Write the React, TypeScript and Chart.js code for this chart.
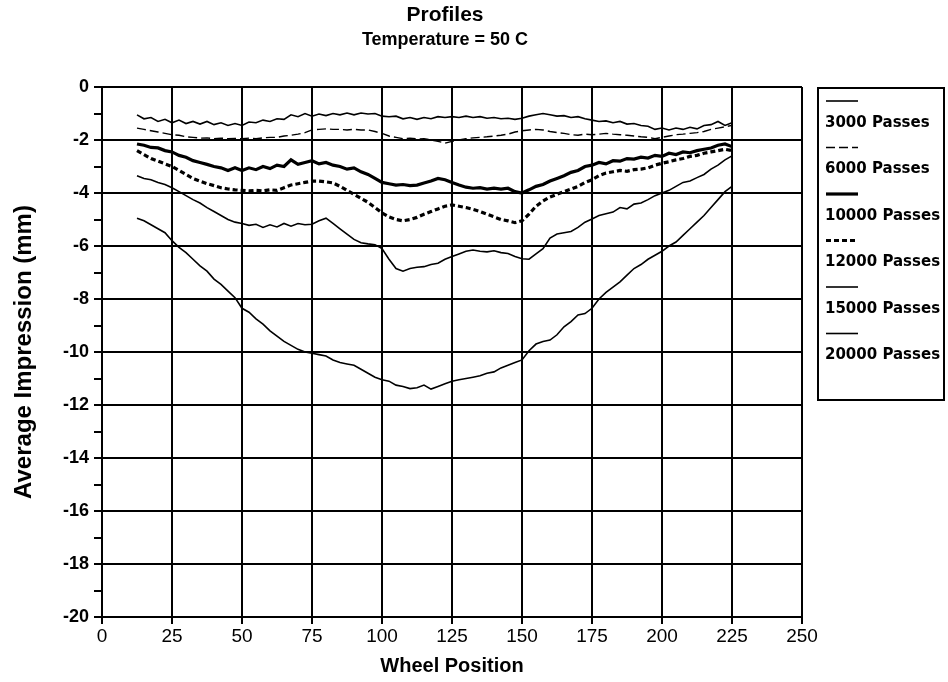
import React, { useEffect, useRef } from "react";
import { Chart, registerables } from "chart.js";

Chart.register(...registerables);

const TITLE_LINES = ["Profiles", "Temperature = 50 C"];
const X_TITLE = "Wheel Position";
const Y_TITLE = "Average Impression (mm)";

const positions = [
  12.5, 15, 17.5, 20, 22.5, 25, 27.5, 30, 32.5, 35, 37.5, 40, 42.5, 45, 47.5, 50,
  52.5, 55, 57.5, 60, 62.5, 65, 67.5, 70, 72.5, 75, 77.5, 80, 82.5, 85, 87.5, 90,
  92.5, 95, 97.5, 100, 102.5, 105, 107.5, 110, 112.5, 115, 117.5, 120, 122.5, 125,
  127.5, 130, 132.5, 135, 137.5, 140, 142.5, 145, 147.5, 150, 152.5, 155, 157.5, 160,
  162.5, 165, 167.5, 170, 172.5, 175, 177.5, 180, 182.5, 185, 187.5, 190, 192.5, 195,
  197.5, 200, 202.5, 205, 207.5, 210, 212.5, 215, 217.5, 220, 222.5, 225,
];

const passes3000 = [
  -1.05, -1.2, -1.15, -1.3, -1.22, -1.35, -1.25, -1.38, -1.3, -1.4, -1.3, -1.42, -1.35, -1.45, -1.38, -1.45,
  -1.32, -1.35, -1.25, -1.3, -1.2, -1.22, -1.05, -1.12, -1.0, -1.1, -1.02, -1.08, -1.0, -1.05, -0.98, -1.05,
  -0.98, -1.02, -1.0, -1.1, -1.12, -1.1, -1.2, -1.15, -1.22, -1.15, -1.2, -1.12, -1.15, -1.12,
  -1.15, -1.1, -1.15, -1.12, -1.18, -1.15, -1.2, -1.18, -1.22, -1.18, -1.1, -1.05, -1.0, -1.05,
  -1.1, -1.08, -1.15, -1.12, -1.2, -1.25, -1.3, -1.28, -1.35, -1.3, -1.4, -1.38, -1.45, -1.48,
  -1.6, -1.55, -1.62, -1.55, -1.6, -1.52, -1.58, -1.45, -1.42, -1.3, -1.45, -1.35,
];

const passes6000 = [
  -1.55, -1.6, -1.65, -1.7, -1.75, -1.8, -1.82, -1.88, -1.9, -1.93, -1.92, -1.95, -1.93, -1.95, -1.94, -1.95,
  -1.93, -1.95, -1.92, -1.9, -1.9, -1.85, -1.82, -1.78, -1.72, -1.62, -1.6, -1.58, -1.6, -1.6, -1.62, -1.6,
  -1.62, -1.62, -1.68, -1.75, -1.85, -1.9, -1.95, -1.93, -1.96, -1.95, -2.0, -2.05, -2.12, -2.05,
  -2.0, -1.95, -1.92, -1.9, -1.88, -1.85, -1.82, -1.78, -1.7, -1.65, -1.62, -1.6, -1.62, -1.68,
  -1.72, -1.75, -1.8, -1.82, -1.78, -1.8, -1.78, -1.75, -1.78, -1.8, -1.82, -1.85, -1.88, -1.9,
  -1.95, -1.9, -1.85, -1.8, -1.78, -1.75, -1.72, -1.68, -1.6, -1.55, -1.5, -1.45,
];

const passes10000 = [
  -2.15, -2.2, -2.28, -2.3, -2.4, -2.45, -2.58, -2.65, -2.78, -2.85, -2.92, -3.0, -3.05, -3.15, -3.05, -3.15,
  -3.05, -3.12, -3.0, -3.08, -2.95, -3.0, -2.75, -2.92, -2.85, -2.78, -2.9, -2.85, -2.95, -3.0, -3.1, -3.05,
  -3.2, -3.3, -3.45, -3.6, -3.65, -3.7, -3.68, -3.72, -3.7, -3.62, -3.55, -3.45, -3.5, -3.6,
  -3.7, -3.78, -3.82, -3.8, -3.85, -3.82, -3.85, -3.82, -3.95, -4.0, -3.88, -3.75, -3.68, -3.55,
  -3.45, -3.35, -3.22, -3.15, -3.0, -2.95, -2.85, -2.9, -2.78, -2.8, -2.7, -2.72, -2.65, -2.68,
  -2.58, -2.62, -2.5, -2.55, -2.45, -2.48, -2.4, -2.35, -2.3, -2.2, -2.15, -2.25,
];

const passes12000 = [
  -2.4, -2.55, -2.7, -2.8, -2.9, -3.0, -3.15, -3.3, -3.45, -3.55, -3.65, -3.72, -3.8, -3.85, -3.88, -3.9,
  -3.92, -3.9, -3.92, -3.88, -3.9, -3.8, -3.7, -3.65, -3.6, -3.55, -3.55, -3.58, -3.62, -3.75, -3.9, -4.05,
  -4.2, -4.35, -4.55, -4.75, -4.9, -5.0, -5.05, -5.0, -4.92, -4.8, -4.7, -4.6, -4.5, -4.45,
  -4.5, -4.55, -4.62, -4.7, -4.8, -4.9, -5.0, -5.05, -5.12, -5.05, -4.8, -4.5, -4.3, -4.15,
  -4.05, -3.95, -3.85, -3.75, -3.6, -3.5, -3.35, -3.25, -3.2, -3.15, -3.18, -3.12, -3.1, -3.05,
  -2.95, -2.88, -2.82, -2.75, -2.7, -2.62, -2.58, -2.5, -2.45, -2.4, -2.35, -2.4,
];

const passes15000 = [
  -3.35, -3.45, -3.5, -3.6, -3.68, -3.8, -3.95, -4.1, -4.25, -4.38, -4.55, -4.7, -4.85, -5.0, -5.1, -5.15,
  -5.22, -5.18, -5.3, -5.2, -5.28, -5.15, -5.25, -5.15, -5.2, -5.18, -5.05, -4.95, -5.15, -5.35, -5.55, -5.75,
  -5.88, -5.92, -5.95, -6.1, -6.5, -6.85, -6.95, -6.85, -6.8, -6.78, -6.7, -6.65, -6.5, -6.4,
  -6.3, -6.2, -6.15, -6.2, -6.22, -6.18, -6.25, -6.28, -6.4, -6.48, -6.5, -6.3, -6.1, -5.7,
  -5.55, -5.5, -5.45, -5.3, -5.1, -4.98, -4.85, -4.78, -4.72, -4.55, -4.6, -4.42, -4.38, -4.25,
  -4.1, -4.0, -3.9, -3.75, -3.6, -3.55, -3.42, -3.3, -3.1, -2.95, -2.75, -2.6,
];

const passes20000 = [
  -4.95, -5.05, -5.2, -5.35, -5.5, -5.8, -6.05, -6.25, -6.5, -6.75, -6.95, -7.25, -7.45, -7.7, -7.95, -8.35,
  -8.5, -8.75, -8.95, -9.2, -9.4, -9.6, -9.75, -9.9, -10.0, -10.05, -10.1, -10.15, -10.3, -10.4, -10.45, -10.5,
  -10.65, -10.8, -10.95, -11.05, -11.1, -11.25, -11.3, -11.38, -11.35, -11.25, -11.4, -11.3, -11.2, -11.1,
  -11.05, -11.0, -10.95, -10.9, -10.8, -10.75, -10.6, -10.5, -10.4, -10.3, -9.95, -9.7, -9.6, -9.55,
  -9.35, -9.05, -8.85, -8.6, -8.55, -8.35, -8.0, -7.75, -7.55, -7.35, -7.1, -6.85, -6.7, -6.5,
  -6.35, -6.2, -6.0, -5.85, -5.6, -5.35, -5.1, -4.85, -4.55, -4.25, -3.95, -3.75,
];

const seriesNames = [
  "3000 Passes",
  "6000 Passes",
  "10000 Passes",
  "12000 Passes",
  "15000 Passes",
  "20000 Passes",
];
const seriesValues = [passes3000, passes6000, passes10000, passes12000, passes15000, passes20000];
const seriesWidths = [1.6, 1.4, 3.2, 3.2, 1.6, 1.6];
const seriesDashes: number[][] = [[], [9, 4], [], [5, 3], [], []];

const xTicks = [0, 25, 50, 75, 100, 125, 150, 175, 200, 225, 250];

const overlayPlugin = {
  id: "overlay",
  afterDraw(chart: any) {
    const ctx = chart.ctx;
    const area = chart.chartArea;
    ctx.save();
    // Title
    ctx.fillStyle = "#000";
    ctx.textAlign = "center";
    ctx.textBaseline = "middle";
    const cx = (area.left + area.right) / 2 - 7;
    ctx.font = "bold 21px 'Liberation Sans', Arial, sans-serif";
    ctx.fillText(TITLE_LINES[0], cx, 15);
    ctx.font = "bold 18px 'Liberation Sans', Arial, sans-serif";
    ctx.fillText(TITLE_LINES[1], cx, 40);

    // Legend box
    const bx = 818;
    const by = 88;
    const bw = 126;
    const bh = 312;
    ctx.lineWidth = 2;
    ctx.strokeStyle = "#000";
    ctx.strokeRect(bx, by, bw, bh);
    ctx.textAlign = "left";
    ctx.font = "bold 15px 'DejaVu Sans', sans-serif";
    chart.data.datasets.forEach((ds: any, i: number) => {
      const ly = by + 13 + i * 46.5;
      ctx.beginPath();
      ctx.lineWidth = ds.borderWidth;
      ctx.setLineDash(ds.borderDash || []);
      ctx.moveTo(bx + 8, ly);
      ctx.lineTo(bx + 40, ly);
      ctx.stroke();
      ctx.setLineDash([]);
      ctx.fillText(ds.label, bx + 7, ly + 22);
    });
    ctx.restore();
  },
};

export default function App() {
  const canvasRef = useRef<HTMLCanvasElement | null>(null);

  useEffect(() => {
    const canvas = canvasRef.current;
    if (!canvas) return;
    const datasets = seriesNames.map((name, i) => ({
      label: name,
      data: positions.map((x, j) => ({ x, y: seriesValues[i][j] })),
      borderColor: "#000",
      backgroundColor: "#000",
      borderWidth: seriesWidths[i],
      borderDash: seriesDashes[i],
      pointRadius: 0,
      tension: 0,
      fill: false,
    }));

    const chart = new Chart(canvas, {
      type: "line",
      data: { datasets },
      options: {
        responsive: false,
        animation: false,
        layout: { padding: { top: 87, right: 146, bottom: 0, left: 0 } },
        plugins: {
          legend: { display: false },
          title: { display: false },
          tooltip: { enabled: false },
        },
        scales: {
          x: {
            type: "linear",
            min: 0,
            max: 250,
            afterBuildTicks: (scale: any) => {
              scale.ticks = xTicks.map((v) => ({ value: v }));
            },
            afterFit: (scale: any) => {
              scale.height = 65;
            },
            ticks: {
              color: "#000",
              padding: 1,
              maxRotation: 0,
              autoSkip: false,
              font: { family: "'Liberation Sans', Arial, sans-serif", size: 19 },
            },
            grid: { color: "#000", lineWidth: 2, tickLength: 7, tickColor: "#000" },
            border: { display: true, color: "#000", width: 2 },
            title: {
              display: true,
              text: X_TITLE,
              color: "#000",
              padding: { top: 0, bottom: 4 },
              font: { family: "'Liberation Sans', Arial, sans-serif", size: 20, weight: "bold" },
            },
          },
          y: {
            type: "linear",
            min: -20,
            max: 0,
            afterFit: (scale: any) => {
              scale.width = 102;
            },
            ticks: {
              stepSize: 1,
              autoSkip: false,
              color: "#000",
              padding: 5,
              callback: (v: any) => (Math.abs(Number(v)) % 2 === 0 ? String(v) : ""),
              font: { family: "'Liberation Sans', Arial, sans-serif", size: 18, weight: "bold" },
            },
            grid: {
              color: (c: any) =>
                c.tick && Math.abs(c.tick.value) % 2 === 1 ? "rgba(0,0,0,0)" : "#000",
              lineWidth: 2,
              tickLength: 8,
              tickColor: "#000",
            },
            border: { display: true, color: "#000", width: 2 },
            title: {
              display: true,
              text: Y_TITLE,
              color: "#000",
              padding: { top: 10, bottom: 0 },
              font: { family: "'Liberation Sans', Arial, sans-serif", size: 24, weight: "bold" },
            },
          },
        },
      },
      plugins: [overlayPlugin],
    } as any);

    return () => {
      chart.destroy();
    };
  }, []);

  return (
    <div style={{ position: "fixed", left: 0, top: 0, width: 948, height: 682, background: "#fff" }}>
      <canvas ref={canvasRef} width={948} height={682} style={{ display: "block" }} />
    </div>
  );
}
